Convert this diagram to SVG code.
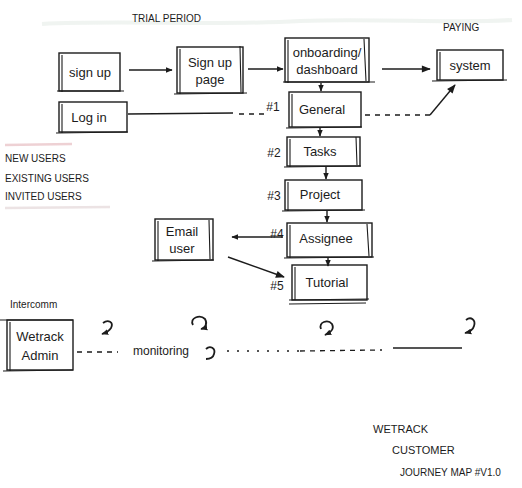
<svg xmlns="http://www.w3.org/2000/svg" width="522" height="488" viewBox="0 0 522 488">
<defs>
<style>
.box{fill:none;stroke:#1c1c1c;stroke-width:1.4}
.sk{fill:none;stroke:#1c1c1c;stroke-width:1.1}
.ln{fill:none;stroke:#1c1c1c;stroke-width:1.4}
.dash{fill:none;stroke:#1c1c1c;stroke-width:1.3;stroke-dasharray:5 5}
.dot{fill:none;stroke:#1c1c1c;stroke-width:1.3;stroke-dasharray:2 8}
.lp{fill:none;stroke:#1c1c1c;stroke-width:1.8}
.t{font-family:"Liberation Sans","DejaVu Sans",sans-serif;fill:#1c1c1c}
.lbl{font-size:13px;text-anchor:middle}
.cap{font-size:10px}
.num{font-size:12px;text-anchor:middle}
</style>
<marker id="ah" viewBox="0 0 10 10" refX="9" refY="5" markerWidth="7" markerHeight="7" orient="auto-start-reverse" markerUnits="userSpaceOnUse">
<path d="M0,1 L10,5 L0,9 Z" fill="#1c1c1c"/>
</marker>
<marker id="ahb" viewBox="0 0 10 10" refX="9" refY="5" markerWidth="11" markerHeight="9" orient="auto" markerUnits="userSpaceOnUse">
<path d="M0,1 L10,5 L0,9 Z" fill="#1c1c1c"/>
</marker>
</defs>
<rect width="522" height="488" fill="#ffffff"/>
<!-- faint bleed-through at top -->
<path d="M42,24 C120,20 220,26 300,21 C380,18 450,24 512,20" fill="none" stroke="#c4d4c8" stroke-width="4" opacity="0.25"/>
<!-- faint highlights -->
<path d="M5,145 L72,144" stroke="#e3b3b8" stroke-width="2.5" opacity="0.6" fill="none"/>
<path d="M5,208 L110,207" stroke="#d9c7c9" stroke-width="2.5" opacity="0.5" fill="none"/>

<g id="labels">
<text class="t cap" x="132" y="22">TRIAL PERIOD</text>
<text class="t cap" x="443" y="31">PAYING</text>
<text class="t cap" x="5" y="162" font-size="11">NEW USERS</text>
<text class="t cap" x="5" y="182" font-size="11">EXISTING USERS</text>
<text class="t cap" x="5" y="200" font-size="11">INVITED USERS</text>
<text class="t" x="10" y="308" font-size="10">Intercomm</text>
<text class="t" x="133" y="355" font-size="12">monitoring</text>
<text class="t" x="373" y="433" font-size="11">WETRACK</text>
<text class="t" x="392" y="454" font-size="11">CUSTOMER</text>
<text class="t" x="400" y="476" font-size="10">JOURNEY MAP #V1.0</text>
<text class="t num" x="273" y="111">#1</text>
<text class="t num" x="274" y="157">#2</text>
<text class="t num" x="274" y="200">#3</text>
<text class="t num" x="277" y="238">#4</text>
<text class="t num" x="277" y="290">#5</text>
</g>

<g id="connectors">
<line class="ln" x1="129" y1="70" x2="172" y2="70" marker-end="url(#ah)"/>
<line class="ln" x1="248" y1="69" x2="283" y2="69" marker-end="url(#ah)"/>
<line class="ln" x1="382" y1="69" x2="430" y2="69" stroke-width="1.8" marker-end="url(#ahb)"/>
<line class="ln" x1="321" y1="83" x2="321" y2="91" marker-end="url(#ah)"/>
<line class="ln" x1="320" y1="127" x2="320" y2="136" marker-end="url(#ah)"/>
<line class="ln" x1="326" y1="167" x2="326" y2="179" marker-end="url(#ah)"/>
<line class="ln" x1="327" y1="211" x2="327" y2="222" marker-end="url(#ah)"/>
<line class="ln" x1="328" y1="258" x2="328" y2="266" marker-end="url(#ah)"/>
<path class="ln" d="M128,114 L233,113"/>
<path class="dash" d="M239,114 L264,114"/>
<path class="dash" d="M365,115 L430,115"/>
<path class="ln" d="M430,115 L455,85" marker-end="url(#ahb)"/>
<line class="ln" x1="283" y1="237" x2="232" y2="237" marker-end="url(#ah)"/>
<line class="ln" x1="228" y1="257" x2="284" y2="277" marker-end="url(#ahb)"/>
<path class="dash" d="M77,352 L118,352"/>
<path class="dot" d="M227,351 L300,351"/>
<path class="dash" d="M300,351 L382,350"/>
<path class="ln" d="M393,348 L462,348"/>
<!-- loop marks -->
<path class="lp" d="M103,323 C108,319 114,322 111,328 C109,331 105,333 102,334" marker-end="url(#ah)"/>
<path class="lp" d="M193,325 C189,318 200,314 205,319 C208,324 205,328 201,329" marker-end="url(#ah)"/>
<path class="lp" d="M206,349 C210,345 216,348 214,354 C213,358 209,359 206,359"/>
<path class="lp" d="M321,329 C318,322 328,319 332,324 C335,330 329,333 325,335" marker-end="url(#ah)"/>
<path class="lp" d="M466,320 C471,316 476,320 474,326 C473,330 469,332 465,333" marker-end="url(#ah)"/>
</g>

<g id="n-signup">
<rect class="box" x="59" y="53" width="61" height="38"/>
<path class="sk" d="M62,55 L62,92 M57,91 L124,91"/>
<text class="t lbl" x="90" y="77">sign up</text>
</g>
<g id="n-signuppage">
<rect class="box" x="177" y="47" width="66" height="46"/>
<path class="sk" d="M180,49 L180,94 M174,94 L247,93 M240,46 L241,92"/>
<text class="t lbl" x="210" y="67">Sign up</text>
<text class="t lbl" x="210" y="84">page</text>
</g>
<g id="n-onboarding">
<rect class="box" x="285" y="38" width="84" height="44"/>
<path class="sk" d="M288,40 L288,83 M283,82 L375,82 M364,39 L366,81"/>
<text class="t lbl" x="327" y="57" font-size="12">onboarding/</text>
<text class="t lbl" x="327" y="74" font-size="12">dashboard</text>
</g>
<g id="n-system">
<rect class="box" x="437" y="50" width="66" height="30"/>
<path class="sk" d="M440,52 L440,80 M432,81 L507,80"/>
<text class="t lbl" x="470" y="70">system</text>
</g>
<g id="n-login">
<rect class="box" x="59" y="102" width="68" height="30"/>
<path class="sk" d="M62,104 L62,133 M56,133 L128,132"/>
<text class="t lbl" x="89" y="122">Log in</text>
</g>
<g id="n-general">
<rect class="box" x="289" y="92" width="72" height="35"/>
<path class="sk" d="M292,94 L292,127 M286,128 L362,127"/>
<text class="t lbl" x="322" y="114">General</text>
</g>
<g id="n-tasks">
<rect class="box" x="287" y="137" width="73" height="29"/>
<path class="sk" d="M290,139 L290,167 M284,167 L361,166 M356,137 L357,165"/>
<text class="t lbl" x="320" y="156">Tasks</text>
</g>
<g id="n-project">
<rect class="box" x="285" y="180" width="77" height="30"/>
<path class="sk" d="M288,182 L288,211 M282,211 L365,210"/>
<text class="t lbl" x="320" y="199">Project</text>
</g>
<g id="n-assignee">
<rect class="box" x="287" y="223" width="85" height="34"/>
<path class="sk" d="M290,225 L290,258 M284,258 L374,257 M367,224 L369,256"/>
<text class="t lbl" x="326" y="243">Assignee</text>
</g>
<g id="n-tutorial">
<rect class="box" x="292" y="265" width="75" height="35"/>
<path class="sk" d="M295,267 L295,300 M289,300 L369,299 M289,304 L366,303"/>
<text class="t lbl" x="327" y="287">Tutorial</text>
</g>
<g id="n-email">
<rect class="box" x="155" y="219" width="58" height="41"/>
<path class="sk" d="M158,221 L158,261 M152,261 L214,260 M209,220 L210,259"/>
<text class="t lbl" x="182" y="236">Email</text>
<text class="t lbl" x="182" y="253" font-size="11">user</text>
</g>
<g id="n-admin">
<rect class="box" x="7" y="320" width="66" height="50"/>
<path class="sk" d="M0,320 L73,320 M10,322 L10,371 M3,371 L73,370"/>
<text class="t lbl" x="40" y="341">Wetrack</text>
<text class="t lbl" x="40" y="360">Admin</text>
</g>
</svg>
